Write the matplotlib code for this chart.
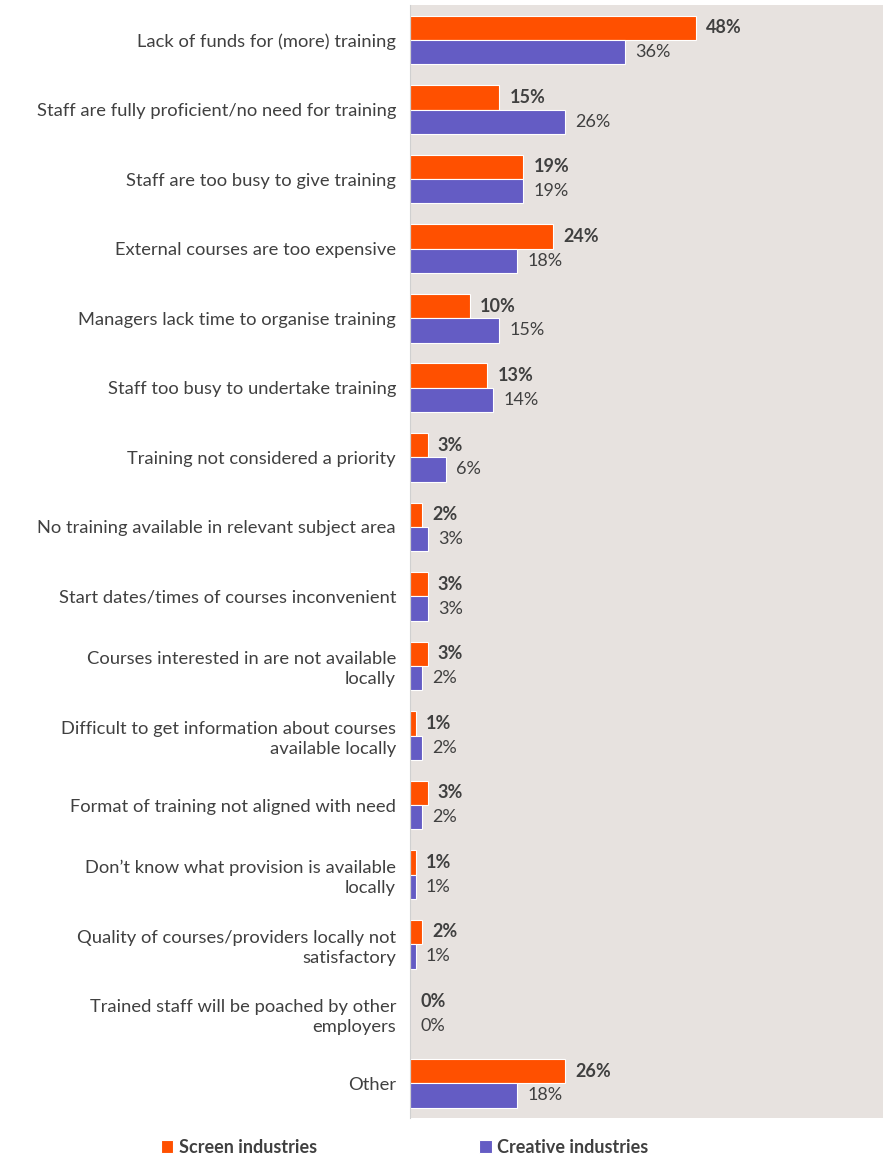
import matplotlib.pyplot as plt
import numpy as np

plt.rcParams['font.family'] = ['Lato', 'DejaVu Sans']

categories = [
    'Lack of funds for (more) training',
    'Staff are fully proficient/no need for training',
    'Staff are too busy to give training',
    'External courses are too expensive',
    'Managers lack time to organise training',
    'Staff too busy to undertake training',
    'Training not considered a priority',
    'No training available in relevant subject area',
    'Start dates/times of courses inconvenient',
    'Courses interested in are not available\nlocally',
    'Difficult to get information about courses\navailable locally',
    'Format of training not aligned with need',
    'Don\u2019t know what provision is available\nlocally',
    'Quality of courses/providers locally not\nsatisfactory',
    'Trained staff will be poached by other\nemployers',
    'Other',
]
screen = [48, 15, 19, 24, 10, 13, 3, 2, 3, 3, 1, 3, 1, 2, 0, 26]
creative = [36, 26, 19, 18, 15, 14, 6, 3, 3, 2, 2, 2, 1, 1, 0, 18]

orange = '#ff5000'
purple = '#645cc4'
txt = '#404040'

fig = plt.figure(figsize=(8.95, 11.58), dpi=100)
ax = fig.add_axes([0.458, 0.0345, 0.529, 0.961])
ax.set_facecolor('#e7e2df')

y = np.arange(len(categories))
h = 0.35
ax.barh(y - h / 2, screen, height=h, color=orange, edgecolor='white', linewidth=0.8,
        label='Screen industries')
ax.barh(y + h / 2, creative, height=h, color=purple, edgecolor='white', linewidth=0.8,
        label='Creative industries')

for i in range(len(categories)):
    ax.text(screen[i] + 1.7, y[i] - h / 2, '%d%%' % screen[i], va='center', ha='left',
            fontsize=13, fontweight='bold', color=txt)
    ax.text(creative[i] + 1.7, y[i] + h / 2, '%d%%' % creative[i], va='center', ha='left',
            fontsize=13, color=txt)

ax.set_xlim(0, 79.4)
ax.set_ylim(len(categories) - 0.5, -0.5)
ax.set_yticks(y)
ax.set_yticklabels(categories, fontsize=13.2, color=txt, linespacing=1.3)
ax.set_xticks([])
ax.tick_params(axis='y', length=0, pad=10)
for s in ['top', 'right', 'bottom']:
    ax.spines[s].set_visible(False)
ax.spines['left'].set_color('#d0d0d0')

leg = fig.legend(loc='center', bbox_to_anchor=(0.452, 0.009), ncol=2, frameon=False,
                 fontsize=13, handlelength=0.7, handleheight=0.7, handletextpad=0.3,
                 columnspacing=9)
for t in leg.get_texts():
    t.set_color(txt)
    t.set_fontweight('bold')

plt.savefig('out.png', dpi=100)
